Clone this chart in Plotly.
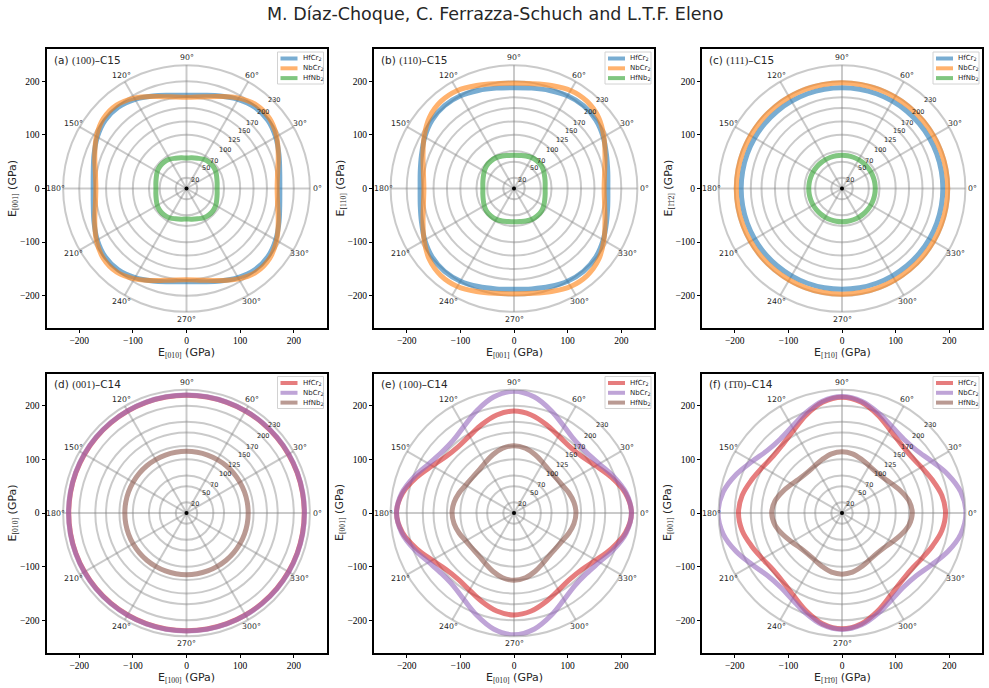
import math
import plotly.graph_objects as go

W, H = 989, 688
TITLE = "M. Díaz-Choque, C. Ferrazza-Schuch and L.T.F. Eleno"

# polar angle of every sample (degrees)
THETA = [0, 10, 20, 30, 40, 50, 60, 70, 80, 90, 100, 110, 120, 130, 140, 150, 160, 170,
         180, 190, 200, 210, 220, 230, 240, 250, 260, 270, 280, 290, 300, 310, 320, 330, 340, 350]

COMPOUNDS = ["HfCr<sub>2</sub>", "NbCr<sub>2</sub>", "HfNb<sub>2</sub>"]
RADIAL_TICKS = [20, 50, 70, 100, 125, 150, 170, 200, 230]
ANGLE_TICKS = [0, 30, 60, 90, 120, 150, 180, 210, 240, 270, 300, 330]
AXIS_TICKS = [-200, -100, 0, 100, 200]

SERIF = "Liberation Serif"
SANS = "DejaVu Sans"

def m(s):
    return "<span style='font-family:%s'>%s</span>" % (SERIF, s)

PANEL_LABELS = [
    "(a) " + m("(100)") + "–C15",
    "(b) " + m("(110)") + "–C15",
    "(c) " + m("(111)") + "–C15",
    "(d) " + m("(001)") + "–C14",
    "(e) " + m("(100)") + "–C14",
    "(f) " + m("(1\u03041\u03040)") + "–C14",
]
X_LABELS = ["[010]", "[001]", "[1\u030410]", "[100]", "[010]", "[1\u03041\u03040]"]
Y_LABELS = ["[001]", "[110]", "[1\u03041\u03042]", "[010]", "[001]", "[001]"]

# ---- Young's modulus E (GPa) vs angle ----
# (a) (100)-C15
A_HfCr2 = [174, 176.5, 183.5, 192, 198, 198, 192, 183.5, 176.5, 174,
           176.5, 183.5, 192, 198, 198, 192, 183.5, 176.5, 174,
           176.5, 183.5, 192, 198, 198, 192, 183.5, 176.5, 174,
           176.5, 183.5, 192, 198, 198, 192, 183.5, 176.5]
A_NbCr2 = [169, 172.5, 182, 194, 202.5, 203, 194.5, 182.5, 173.5, 170,
           173.5, 182.5, 194.5, 203, 202.5, 194, 182, 172.5, 169,
           172.5, 182, 194, 202.5, 203, 194.5, 182.5, 173.5, 170,
           173.5, 182.5, 194.5, 203, 202.5, 194, 182, 172.5]
A_HfNb2 = [57, 58, 60, 63, 64.5, 64.5, 63, 60, 58, 57,
           58, 60, 63, 64.5, 64.5, 63, 60, 58, 57,
           58, 60, 63, 64.5, 64.5, 63, 60, 58, 57,
           58, 60, 63, 64.5, 64.5, 63, 60, 58]
# (b) (110)-C15
B_HfCr2 = [175, 177.5, 183.5, 192, 199, 201.5, 199.5, 194.5, 190, 188,
           190, 194.5, 199.5, 201.5, 199, 192, 183.5, 177.5, 175,
           177.5, 183.5, 192, 199, 201.5, 199.5, 194.5, 190, 188,
           190, 194.5, 199.5, 201.5, 199, 192, 183.5, 177.5]
B_NbCr2 = [168, 171.5, 180.5, 193.5, 206, 212, 211, 204.5, 198.5, 196,
           198.5, 204.5, 211, 212, 206, 193.5, 180.5, 171.5, 168,
           171.5, 180.5, 193.5, 206, 212, 211, 204.5, 198.5, 196,
           198.5, 204.5, 211, 212, 206, 193.5, 180.5, 171.5]
B_HfNb2 = [58, 59, 61, 64, 66.5, 67, 66.5, 64.5, 62.5, 62,
           62.5, 64.5, 66.5, 67, 66.5, 64, 61, 59, 58,
           59, 61, 64, 66.5, 67, 66.5, 64.5, 62.5, 62,
           62.5, 64.5, 66.5, 67, 66.5, 64, 61, 59]
# (c) (111)-C15  (isotropic)
C_HfCr2 = [188, 188, 188, 188, 188, 188, 188, 188, 188, 188, 188, 188,
           188, 188, 188, 188, 188, 188, 188, 188, 188, 188, 188, 188,
           188, 188, 188, 188, 188, 188, 188, 188, 188, 188, 188, 188]
C_NbCr2 = [197, 197, 197, 197, 197, 197, 197, 197, 197, 197, 197, 197,
           197, 197, 197, 197, 197, 197, 197, 197, 197, 197, 197, 197,
           197, 197, 197, 197, 197, 197, 197, 197, 197, 197, 197, 197]
C_HfNb2 = [62, 62, 62, 62, 62, 62, 62, 62, 62, 62, 62, 62,
           62, 62, 62, 62, 62, 62, 62, 62, 62, 62, 62, 62,
           62, 62, 62, 62, 62, 62, 62, 62, 62, 62, 62, 62]
# (d) (001)-C14  (isotropic)
D_HfCr2 = [219.5, 219.5, 219.5, 219.5, 219.5, 219.5, 219.5, 219.5, 219.5, 219.5, 219.5, 219.5,
           219.5, 219.5, 219.5, 219.5, 219.5, 219.5, 219.5, 219.5, 219.5, 219.5, 219.5, 219.5,
           219.5, 219.5, 219.5, 219.5, 219.5, 219.5, 219.5, 219.5, 219.5, 219.5, 219.5, 219.5]
D_NbCr2 = [220, 220, 220, 220, 220, 220, 220, 220, 220, 220, 220, 220,
           220, 220, 220, 220, 220, 220, 220, 220, 220, 220, 220, 220,
           220, 220, 220, 220, 220, 220, 220, 220, 220, 220, 220, 220]
D_HfNb2 = [115, 115, 115, 115, 115, 115, 115, 115, 115, 115, 115, 115,
           115, 115, 115, 115, 115, 115, 115, 115, 115, 115, 115, 115,
           115, 115, 115, 115, 115, 115, 115, 115, 115, 115, 115, 115]
# (e) (100)-C14
E_HfCr2 = [219, 211, 193.5, 176, 164.5, 161.5, 166, 175.5, 185.5, 190,
           185.5, 175.5, 166, 161.5, 164.5, 176, 193.5, 211, 219,
           211, 193.5, 176, 164.5, 161.5, 166, 175.5, 185.5, 190,
           185.5, 175.5, 166, 161.5, 164.5, 176, 193.5, 211]
E_NbCr2 = [219, 212.5, 198, 183.5, 176, 176.5, 186.5, 203, 219.5, 227,
           219.5, 203, 186.5, 176.5, 176, 183.5, 198, 212.5, 219,
           212.5, 198, 183.5, 176, 176.5, 186.5, 203, 219.5, 227,
           219.5, 203, 186.5, 176.5, 176, 183.5, 198, 212.5]
E_HfNb2 = [115.5, 113.5, 109, 104, 102, 103, 108, 115.5, 122.5, 125.5,
           122.5, 115.5, 108, 103, 102, 104, 109, 113.5, 115.5,
           113.5, 109, 104, 102, 103, 108, 115.5, 122.5, 125.5,
           122.5, 115.5, 108, 103, 102, 104, 109, 113.5]
# (f) (-1-10)-C14
F_HfCr2 = [193, 189, 179.5, 171, 166.5, 169.5, 179, 194.5, 209.5, 216,
           209.5, 194.5, 179, 169.5, 166.5, 171, 179.5, 189, 193,
           189, 179.5, 171, 166.5, 169.5, 179, 194.5, 209.5, 216,
           209.5, 194.5, 179, 169.5, 166.5, 171, 179.5, 189]
F_NbCr2 = [231, 225, 210, 193, 181.5, 179.5, 186, 198.5, 211.5, 217,
           211.5, 198.5, 186, 179.5, 181.5, 193, 210, 225, 231,
           225, 210, 193, 181.5, 179.5, 186, 198.5, 211.5, 217,
           211.5, 198.5, 186, 179.5, 181.5, 193, 210, 225]
F_HfNb2 = [131, 127, 117.5, 108, 101.5, 99.5, 101.5, 106.5, 112, 114,
           112, 106.5, 101.5, 99.5, 101.5, 108, 117.5, 127, 131,
           127, 117.5, 108, 101.5, 99.5, 101.5, 106.5, 112, 114,
           112, 106.5, 101.5, 99.5, 101.5, 108, 117.5, 127]

SERIES = [
    [A_HfCr2, A_NbCr2, A_HfNb2],
    [B_HfCr2, B_NbCr2, B_HfNb2],
    [C_HfCr2, C_NbCr2, C_HfNb2],
    [D_HfCr2, D_NbCr2, D_HfNb2],
    [E_HfCr2, E_NbCr2, E_HfNb2],
    [F_HfCr2, F_NbCr2, F_HfNb2],
]

C15_COLORS = ["rgba(31,119,180,0.6)", "rgba(255,127,14,0.6)", "rgba(44,160,44,0.6)"]
C14_COLORS = ["rgba(214,39,40,0.6)", "rgba(148,103,189,0.6)", "rgba(140,86,75,0.6)"]
PANEL_COLORS = [C15_COLORS, C15_COLORS, C15_COLORS, C14_COLORS, C14_COLORS, C14_COLORS]

# ---- geometry (pixels) ----
COL_LEFT = [46.5, 374.0, 702.0]
ROW_TOP = [49.0, 373.5]
PW, PH = 280.0, 279.0
X_HALF = 261.0
PX_PER_UNIT = PW / (2 * X_HALF)
Y_HALF = PH / 2 / PX_PER_UNIT
R_MAX = 230
ANGLE_LABEL_R = 244
RLABEL_ANGLE = 45
GRID = "rgba(128,128,128,0.42)"
TXT = "#262626"


def fx(px):
    return px / W


def fy(py):
    return 1 - py / H


fig = go.Figure()
layout = {}
annotations = []
shapes = []

for i in range(6):
    row, col = divmod(i, 3)
    L = COL_LEFT[col]
    T = ROW_TOP[row]
    cx = L + PW / 2
    cy = T + PH / 2
    sfx = "" if i == 0 else str(i + 1)
    xr, yr = "x" + sfx, "y" + sfx
    tickfont = dict(family=SERIF, size=9.5, color="black")
    common = dict(tickmode="array", tickvals=AXIS_TICKS, ticks="outside", ticklen=3,
                  tickwidth=1, tickcolor="black", showline=True, mirror=True,
                  linecolor="black", linewidth=2, showgrid=False, zeroline=False,
                  tickfont=tickfont, fixedrange=True)
    layout["xaxis" + sfx] = dict(domain=[fx(L), fx(L + PW)], range=[-X_HALF, X_HALF],
                                 anchor=yr, **common)
    layout["yaxis" + sfx] = dict(domain=[fy(T + PH), fy(T)], range=[-Y_HALF, Y_HALF],
                                 anchor=xr, **common)
    # empty trace so that the cartesian frame with its ticks is drawn
    fig.add_trace(go.Scatter(x=[None], y=[None], mode="markers", xaxis=xr,
                             yaxis=yr, showlegend=False, hoverinfo="skip"))
    rpx = R_MAX * PX_PER_UNIT
    layout["polar" + sfx] = dict(
        domain=dict(x=[fx(cx - rpx), fx(cx + rpx)], y=[fy(cy + rpx), fy(cy - rpx)]),
        bgcolor="rgba(0,0,0,0)",
        radialaxis=dict(range=[0, R_MAX], tickmode="array", tickvals=RADIAL_TICKS,
                        showline=False, ticks="", gridcolor=GRID, gridwidth=2,
                        showticklabels=False),
        angularaxis=dict(rotation=0, direction="counterclockwise", tickmode="array",
                         tickvals=ANGLE_TICKS, showline=True,
                         linecolor=GRID, linewidth=2, gridcolor=GRID, gridwidth=2,
                         ticks="", showticklabels=False),
    )
    for k in range(3):
        vals = SERIES[i][k]
        fig.add_trace(go.Scatterpolar(
            r=vals + [vals[0]], theta=THETA + [THETA[0]], mode="lines",
            line=dict(color=PANEL_COLORS[i][k], width=5, shape="spline", smoothing=1),
            subplot="polar" + sfx, showlegend=False, cliponaxis=False, hoverinfo="skip"))
    fig.add_trace(go.Scatterpolar(r=[0], theta=[0], mode="markers",
                                  marker=dict(color="black", size=4),
                                  subplot="polar" + sfx, showlegend=False, hoverinfo="skip"))

    # angular tick labels (placed on the panel's own data axes)
    for a in ANGLE_TICKS:
        annotations.append(dict(
            x=ANGLE_LABEL_R * math.cos(math.radians(a)),
            y=ANGLE_LABEL_R * math.sin(math.radians(a)),
            xref=xr, yref=yr, text="%d°" % a, showarrow=False,
            xanchor="center", yanchor="middle",
            font=dict(family=SANS, size=7.8, color=TXT)))
    # radial tick labels along the 45 degree direction
    for rv in RADIAL_TICKS:
        annotations.append(dict(
            x=rv * math.cos(math.radians(RLABEL_ANGLE)) + 1,
            y=rv * math.sin(math.radians(RLABEL_ANGLE)) + 2,
            xref=xr, yref=yr, text=str(rv), showarrow=False,
            xanchor="center", yanchor="middle",
            font=dict(family=SANS, size=6.5, color=TXT)))

    # panel label
    annotations.append(dict(x=fx(L + 5), y=fy(T + 11), xref="paper", yref="paper",
                            text=PANEL_LABELS[i], showarrow=False, xanchor="left",
                            yanchor="middle", font=dict(family=SANS, size=10.5, color=TXT)))
    # axis titles
    annotations.append(dict(x=fx(cx), y=fy(T + PH + 25), xref="paper", yref="paper",
                            text="E<sub>" + m(X_LABELS[i]) + "</sub> (GPa)", showarrow=False,
                            xanchor="center", yanchor="middle",
                            font=dict(family=SANS, size=11, color=TXT)))
    annotations.append(dict(x=fx(L - 34), y=fy(cy), xref="paper", yref="paper",
                            text="E<sub>" + m(Y_LABELS[i]) + "</sub> (GPa)", showarrow=False,
                            xanchor="center", yanchor="middle", textangle=-90,
                            font=dict(family=SANS, size=11, color=TXT)))
    # legend box
    bx1 = L + PW - 3
    bx0 = bx1 - 46
    by0 = T + 3
    by1 = by0 + 32
    shapes.append(dict(type="rect", xref="paper", yref="paper", x0=fx(bx0), x1=fx(bx1),
                       y0=fy(by1), y1=fy(by0), line=dict(color="rgb(210,210,210)", width=1),
                       fillcolor="rgba(255,255,255,0.85)"))
    for k in range(3):
        yy = by0 + 6.5 + 9.8 * k
        shapes.append(dict(type="line", xref="paper", yref="paper", x0=fx(bx0 + 3),
                           x1=fx(bx0 + 20), y0=fy(yy), y1=fy(yy),
                           line=dict(color=PANEL_COLORS[i][k], width=4)))
        annotations.append(dict(x=fx(bx0 + 23), y=fy(yy), xref="paper", yref="paper",
                                text=COMPOUNDS[k], showarrow=False, xanchor="left",
                                yanchor="middle", font=dict(family=SANS, size=7, color=TXT)))

annotations.append(dict(x=0.5, y=fy(14), xref="paper", yref="paper", text=TITLE,
                        showarrow=False, xanchor="center", yanchor="middle",
                        font=dict(family=SANS, size=17.5, color=TXT)))

fig.update_layout(width=W, height=H, margin=dict(l=0, r=0, t=0, b=0),
                  paper_bgcolor="white", plot_bgcolor="white", showlegend=False,
                  annotations=annotations, shapes=shapes, **layout)

fig.write_html("out.html")
